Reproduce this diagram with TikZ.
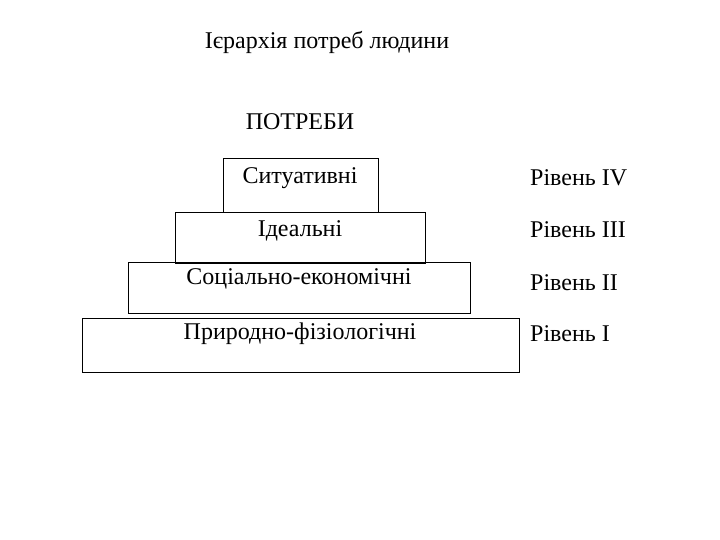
\documentclass[tikz,border=0pt]{standalone}
\usepackage{fontspec}
\setmainfont{Liberation Serif}
\begin{document}
\begin{tikzpicture}[x=1pt,y=-1pt,
  lvl/.style={draw=black,line width=0.8pt},
  txt/.style={font=\fontsize{24}{28}\selectfont,inner sep=0pt}]
\useasboundingbox (0,0) rectangle (720,540);
\node[txt] (title) at (327,42) {Ієрархія потреб людини};
\node[txt] (need) at (300,122) {ПОТРЕБИ};
\draw[lvl] (223,158) rectangle (378,212);
\draw[lvl] (175,212) rectangle (425,263);
\draw[lvl] (128,262) rectangle (470,313);
\draw[lvl] (82,318) rectangle (519,372);
\node[txt] (b4) at (300,178) {Ситуативні};
\node[txt] (b3) at (300,231) {Ідеальні};
\node[txt] (b2) at (299,279) {Соціально-економічні};
\node[txt] (b1) at (300,334) {Природно-фізіологічні};
\node[txt,anchor=west] (l4) at (530,178) {Рівень IV};
\node[txt,anchor=west] (l3) at (530,230) {Рівень III};
\node[txt,anchor=west] (l2) at (530,283) {Рівень II};
\node[txt,anchor=west] (l1) at (530,334) {Рівень I};
\end{tikzpicture}
\end{document}
